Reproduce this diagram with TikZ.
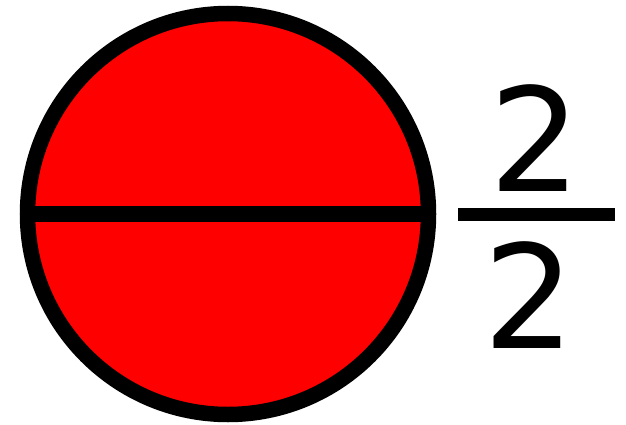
\documentclass[tikz,border=0pt]{standalone}
\usepackage{fontspec}
\newfontfamily\digitfont{DejaVu Sans}
\begin{document}
\begin{tikzpicture}[x=1pt,y=-1pt,
  digit/.style={inner sep=0pt, font=\digitfont\fontsize{144}{144}\selectfont, text=black}]
\useasboundingbox (0,0) rectangle (626,425);
\node[circle, draw=black, fill=red, line width=15.5pt, minimum size=401pt, inner sep=0pt] (c) at (228,214) {};
\draw[line width=16pt] (c.west) -- (c.east);
\coordinate (fl) at (458,214);
\coordinate (fr) at (615,214);
\draw[line width=13pt] (fl) -- (fr);
\node[digit] (num) at (535,138) {2};
\node[digit] (den) at (529,295) {2};
\end{tikzpicture}
\end{document}
